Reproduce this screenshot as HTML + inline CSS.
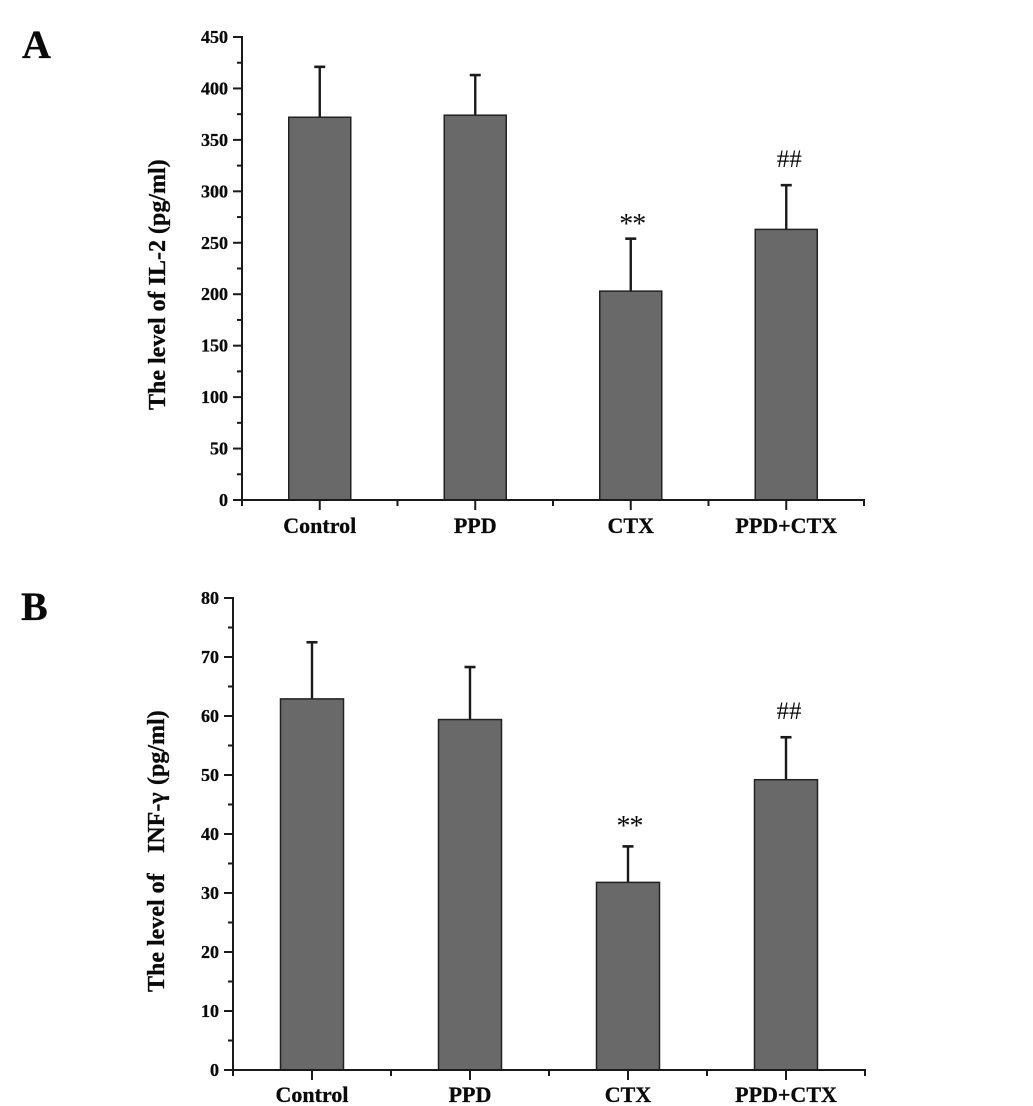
<!DOCTYPE html>
<html lang="en">
<head>
<meta charset="utf-8">
<title>IL-2 and INF-γ levels</title>
<style>
html,body{margin:0;padding:0;background:#fff;width:1033px;height:1106px;overflow:hidden}
svg{display:block}
text{font-family:"Liberation Serif",serif;fill:#0a0a0a}
.b{font-weight:bold;stroke:#0a0a0a;stroke-width:.3px}
</style>
</head>
<body>
<svg id="chart" width="1033" height="1106" viewBox="0 0 1033 1106" xmlns="http://www.w3.org/2000/svg">
  <rect width="1033" height="1106" fill="#fff"/>
  <text class="b" x="22" y="58" font-size="40">A</text>
  <text class="b" x="21" y="620" font-size="40">B</text>
  <text class="b" transform="translate(165,410) rotate(-90)" font-size="24">The level of IL-2 (pg/ml)</text>
  <text class="b" transform="translate(164,992) rotate(-90)" font-size="24">The level of<tspan x="139">INF-γ</tspan><tspan x="207">(pg/ml)</tspan></text>
  <g id="panel-a"></g>
  <g id="panel-b"></g>
</svg>
<script>
const categories = ['Control', 'PPD', 'CTX', 'PPD+CTX'];

const il2Values = [372, 374, 203, 263];
const il2ErrorTops = [421, 413, 254, 306];
const il2Ticks = [0, 50, 100, 150, 200, 250, 300, 350, 400, 450];
const il2Marks = ['', '', '**', '##'];

const infValues = [62.9, 59.4, 31.8, 49.2];
const infErrorTops = [72.5, 68.3, 37.9, 56.4];
const infTicks = [0, 10, 20, 30, 40, 50, 60, 70, 80];
const infMarks = ['', '', '**', '##'];

const NS = 'http://www.w3.org/2000/svg';

function make(parent, tag, attrs, txt) {
  const el = document.createElementNS(NS, tag);
  for (const k in attrs) el.setAttribute(k, attrs[k]);
  if (txt !== undefined) el.textContent = txt;
  parent.appendChild(el);
  return el;
}

function drawPanel(root, cfg, values, tops, ticks, marks) {
  const maxV = ticks[ticks.length - 1];
  const y = v => cfg.y0 + (cfg.yTop - cfg.y0) * v / maxV;
  const band = (cfg.x1 - cfg.x0) / categories.length;
  const xc = i => cfg.x0 + band * (i + 0.5);
  const ink = '#1a1a1a';

  values.forEach((v, i) => {
    const err = make(root, 'line', {x1: xc(i), x2: xc(i), y1: y(v), y2: y(tops[i]), stroke: ink, 'stroke-width': 2.4});
    
    
    const cap = make(root, 'line', {x1: xc(i) - 5.5, x2: xc(i) + 5.5, y1: y(tops[i]), y2: y(tops[i]), stroke: ink, 'stroke-width': 2.6});
    
    
    const bar = make(root, 'rect', {x: xc(i) - cfg.barW / 2, y: y(v), width: cfg.barW, height: y(0) - y(v), fill: '#696969', stroke: '#222', 'stroke-width': 1.5});
    
    

    const label = make(root, 'text', {x: xc(i), y: cfg.y0 + cfg.catDy, 'text-anchor': 'middle', 'font-size': 22, 'font-weight': 'bold', stroke: '#0a0a0a', 'stroke-width': 0.3});
    label.textContent = categories[i];
    
    

    if (marks[i]) {
      const isStar = marks[i] === '**';
      const note = make(root, 'text', {
        x: xc(i) + (isStar ? 1.5 : 3),
        y: y(tops[i]) - (isStar ? cfg.starDy : cfg.hashDy),
        'text-anchor': 'middle',
        'font-size': isStar ? 28 : 25,
        'letter-spacing': isStar ? -1 : 0
      }, marks[i]);
      
      
    }
  });

  const yAxis = make(root, 'line', {x1: cfg.x0, x2: cfg.x0, y1: y(maxV) - 1, y2: y(0) + 1, stroke: ink, 'stroke-width': 2});
  
  
  const xAxis = make(root, 'line', {x1: cfg.x0, x2: cfg.x1 + 1, y1: y(0), y2: y(0), stroke: ink, 'stroke-width': 2});
  
  

  ticks.forEach((t, i) => {
    const major = make(root, 'line', {x1: cfg.x0 - 9, x2: cfg.x0, y1: y(t), y2: y(t), stroke: ink, 'stroke-width': 2});
    
    
    const lab = make(root, 'text', {x: cfg.x0 - 14, y: y(t) + 6, 'text-anchor': 'end', 'font-size': 18, 'font-weight': 'bold', stroke: '#0a0a0a', 'stroke-width': 0.3}, String(t));
    
    
    if (i < ticks.length - 1) {
      const mv = (t + ticks[i + 1]) / 2;
      const minor = make(root, 'line', {x1: cfg.x0 - 5, x2: cfg.x0, y1: y(mv), y2: y(mv), stroke: ink, 'stroke-width': 2});
      
      
    }
  });

  for (let i = 0; i <= categories.length * 2; i++) {
    const px = cfg.x0 + band * i / 2;
    const isMajor = i % 2 === 1;
    const tick = make(root, 'line', {x1: px, x2: px, y1: y(0), y2: y(0) + (isMajor ? 10 : 6), stroke: ink, 'stroke-width': 2});
    
    
  }
}

drawPanel(document.getElementById('panel-a'),
  {x0: 242, x1: 864, y0: 500, yTop: 37, barW: 62, catDy: 33, starDy: 5.6, hashDy: 18},
  il2Values, il2ErrorTops, il2Ticks, il2Marks);
drawPanel(document.getElementById('panel-b'),
  {x0: 233, x1: 865, y0: 1070, yTop: 598, barW: 63, catDy: 32, starDy: 11.6, hashDy: 18},
  infValues, infErrorTops, infTicks, infMarks);
</script>
</body>
</html>
